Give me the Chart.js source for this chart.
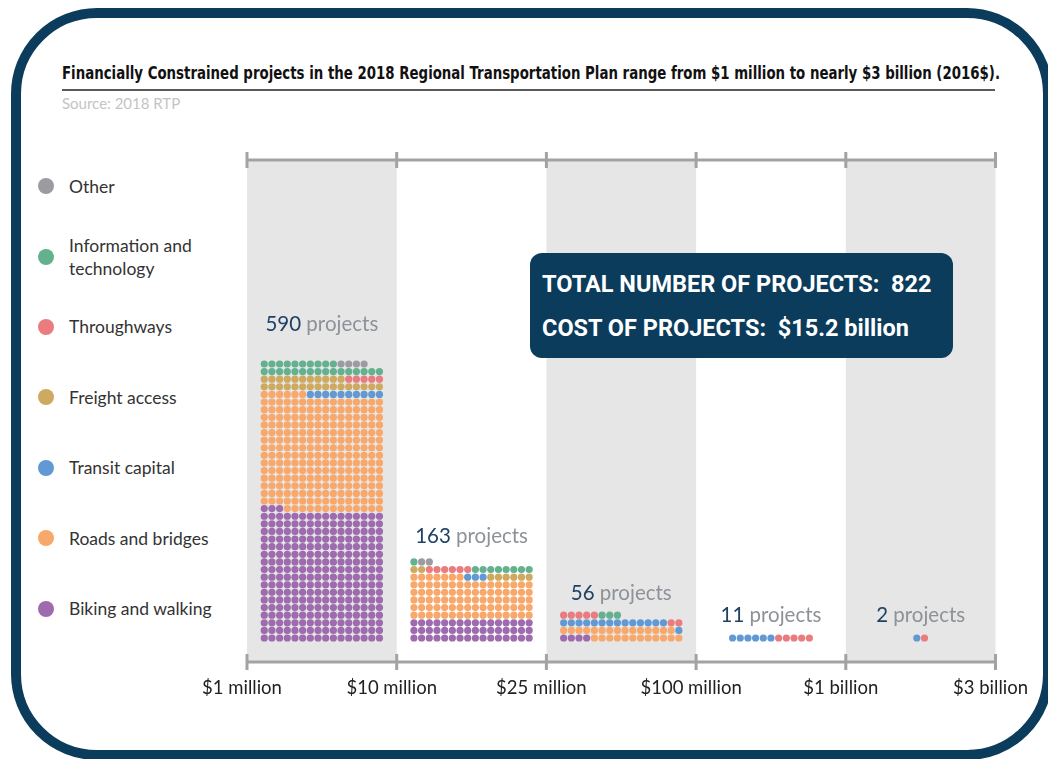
<!DOCTYPE html>
<html>
<head>
<meta charset="utf-8">
<script src="https://cdn.jsdelivr.net/npm/chart.js@4"></script>
<style>
  html, body { margin: 0; padding: 0; background: #fff; }
  body { width: 1048px; height: 759px; position: relative; overflow: hidden; font-family: Lato, "Open Sans", sans-serif; }
  .frame { position: absolute; left: 11px; top: 8px; width: 1042px; height: 752px; box-sizing: border-box;
           border: 10px solid #0b3c5c; border-radius: 86px; }
  .title { position: absolute; left: 62px; top: 63px; font-family: "DejaVu Sans Condensed", "Liberation Sans", sans-serif;
           font-weight: bold; font-size: 17px; color: #111; white-space: nowrap; transform-origin: 0 50%; }
  .rule { position: absolute; left: 62px; top: 89px; width: 933px; height: 2px; background: #5a5a5a; }
  .source { position: absolute; left: 62px; top: 94px; font-size: 15px; color: #c4c4c4; }
  .legend { position: absolute; left: 38px; top: 151px; }
  .legend .item { height: 70.4px; display: flex; align-items: center; }
  .legend .dot { width: 16px; height: 16px; border-radius: 50%; margin-right: 15px; flex: none; }
  .legend .lab { font-size: 17.5px; color: #333; white-space: pre-line; line-height: 23px; }
  canvas { position: absolute; left: 0; top: 0; }
  .box { position: absolute; left: 530px; top: 253px; width: 423px; height: 105px; background: #0b3c5c; border-radius: 12px;
         color: #fff; font-family: Roboto, sans-serif; font-weight: bold; font-size: 23.5px; box-sizing: border-box; padding: 17px 0 0 12px; }
  .box div { height: 44px; white-space: pre; }
</style>
</head>
<body>
<div class="frame"></div>
<div class="title" id="title">Financially Constrained projects in the 2018 Regional Transportation Plan range from $1 million to nearly $3 billion (2016$).</div>
<div class="rule"></div>
<div class="source">Source: 2018 RTP</div>
<div class="legend" id="legend"></div>
<canvas id="dots" width="1048" height="759"></canvas>
<div class="box">
  <div>TOTAL NUMBER OF PROJECTS:  822</div>
  <div>COST OF PROJECTS:  $15.2 billion</div>
</div>
<script>
// cost ranges (axis boundaries)
const tickLabels = ['$1 million', '$10 million', '$25 million', '$100 million', '$1 billion', '$3 billion'];

// project types, stacked bottom -> top
const categories = ['Biking and walking', 'Roads and bridges', 'Transit capital', 'Freight access',
                    'Throughways', 'Information and technology', 'Other'];
const colors = ['#9d6bae', '#f9a86c', '#6199d4', '#ceaa61', '#ea7b7e', '#63b18f', '#9c9ba0'];

// number of projects per cost range
const biking      = [275, 48, 4, 0, 0];
const roads       = [243, 87, 27, 0, 0];
const transit     = [10, 3, 15, 6, 1];
const freight     = [27, 8, 0, 0, 0];
const throughways = [5, 6, 7, 5, 1];
const infoTech    = [26, 9, 3, 0, 0];
const other       = [4, 2, 0, 0, 0];
const seriesValues = [biking, roads, transit, freight, throughways, infoTech, other];

const COLS = 16;
const colStep = 0.0513;   // x units between dot columns
const labelGap = [40, 26, 22, 23, 23];

// squeeze the title to the width of the rule, like the condensed original
const titleEl = document.getElementById('title');
titleEl.style.transform = 'scaleX(' + (938 / titleEl.getBoundingClientRect().width) + ')';

// legend, top to bottom
const legendEl = document.getElementById('legend');
const legendLabels = ['Other', 'Information and\ntechnology', 'Throughways', 'Freight access',
                      'Transit capital', 'Roads and bridges', 'Biking and walking'];
for (let i = categories.length - 1; i >= 0; i--) {
  const item = document.createElement('div');
  item.className = 'item';
  item.innerHTML = '<span class="dot" style="background:' + colors[i] + '"></span><span class="lab"></span>';
  item.querySelector('.lab').textContent = legendLabels[categories.length - 1 - i];
  legendEl.appendChild(item);
}

// lay each range out as a grid filled from bottom-left, row by row
const nBins = biking.length;
const totals = [];
const datasets = categories.map((c, i) => ({ label: c, data: [], backgroundColor: colors[i], pointRadius: 3.6, borderWidth: 0 }));
for (let b = 0; b < nBins; b++) {
  const n = seriesValues.reduce((s, arr) => s + arr[b], 0);
  totals.push(n);
  const cols = Math.min(COLS, n);
  let k = 0;
  seriesValues.forEach((arr, ci) => {
    for (let j = 0; j < arr[b]; j++, k++) {
      const col = k % cols, row = Math.floor(k / cols);
      datasets[ci].data.push({ x: b + 0.5 + (col - (cols - 1) / 2) * colStep, y: row });
    }
  });
}

const axisColor = '#a3a3a3';
const backdrop = {
  id: 'backdrop',
  beforeDatasetsDraw(chart) {
    const { ctx, chartArea: a, scales: { x } } = chart;
    ctx.save();
    ctx.fillStyle = '#e6e6e6';
    for (let b = 0; b < nBins; b += 2) {
      const l = x.getPixelForValue(b), r = x.getPixelForValue(b + 1);
      ctx.fillRect(l, a.top, r - l, a.bottom - a.top);
    }
    ctx.strokeStyle = axisColor;
    ctx.lineWidth = 3;
    [a.top, a.bottom].forEach(y => {
      ctx.beginPath();
      ctx.moveTo(a.left, y); ctx.lineTo(a.right, y);
      for (let b = 0; b <= nBins; b++) {
        const px = x.getPixelForValue(b);
        ctx.moveTo(px, y - 8); ctx.lineTo(px, y + 8);
      }
      ctx.stroke();
    });
    ctx.restore();
  },
  afterDatasetsDraw(chart) {
    const { ctx, scales: { x, y } } = chart;
    ctx.save();
    ctx.font = '20.5px Lato, "Open Sans", sans-serif';
    ctx.textBaseline = 'middle';
    totals.forEach((n, b) => {
      const topRow = Math.ceil(n / COLS) - 1;
      const py = y.getPixelForValue(topRow) - labelGap[b];
      const num = String(n), rest = ' projects';
      const w1 = ctx.measureText(num).width, w2 = ctx.measureText(rest).width;
      const left = x.getPixelForValue(b + 0.5) - (w1 + w2) / 2;
      ctx.fillStyle = '#1d4264';
      ctx.fillText(num, left, py);
      ctx.fillStyle = '#8d9299';
      ctx.fillText(rest, left + w1, py);
    });
    ctx.restore();
  }
};

new Chart(document.getElementById('dots'), {
  type: 'scatter',
  data: { datasets },
  options: {
    responsive: false,
    animation: false,
    devicePixelRatio: 1,
    events: [],
    layout: { padding: { left: 247, right: 49, top: 160, bottom: 57 } },
    plugins: { legend: { display: false }, tooltip: { enabled: false } },
    scales: {
      x: {
        type: 'linear', min: 0, max: 5,
        grid: { display: false, drawTicks: false },
        border: { display: false },
        afterFit(scale) { scale.height = 40; },
        ticks: {
          stepSize: 1, autoSkip: false, maxRotation: 0, padding: 15, labelOffset: -5,
          color: '#222', font: { size: 18.5, family: 'Lato, "Open Sans", sans-serif' },
          callback: v => tickLabels[v]
        }
      },
      y: { display: false, min: -3.15, max: 62.8 }
    }
  },
  plugins: [backdrop]
});
</script>
</body>
</html>
